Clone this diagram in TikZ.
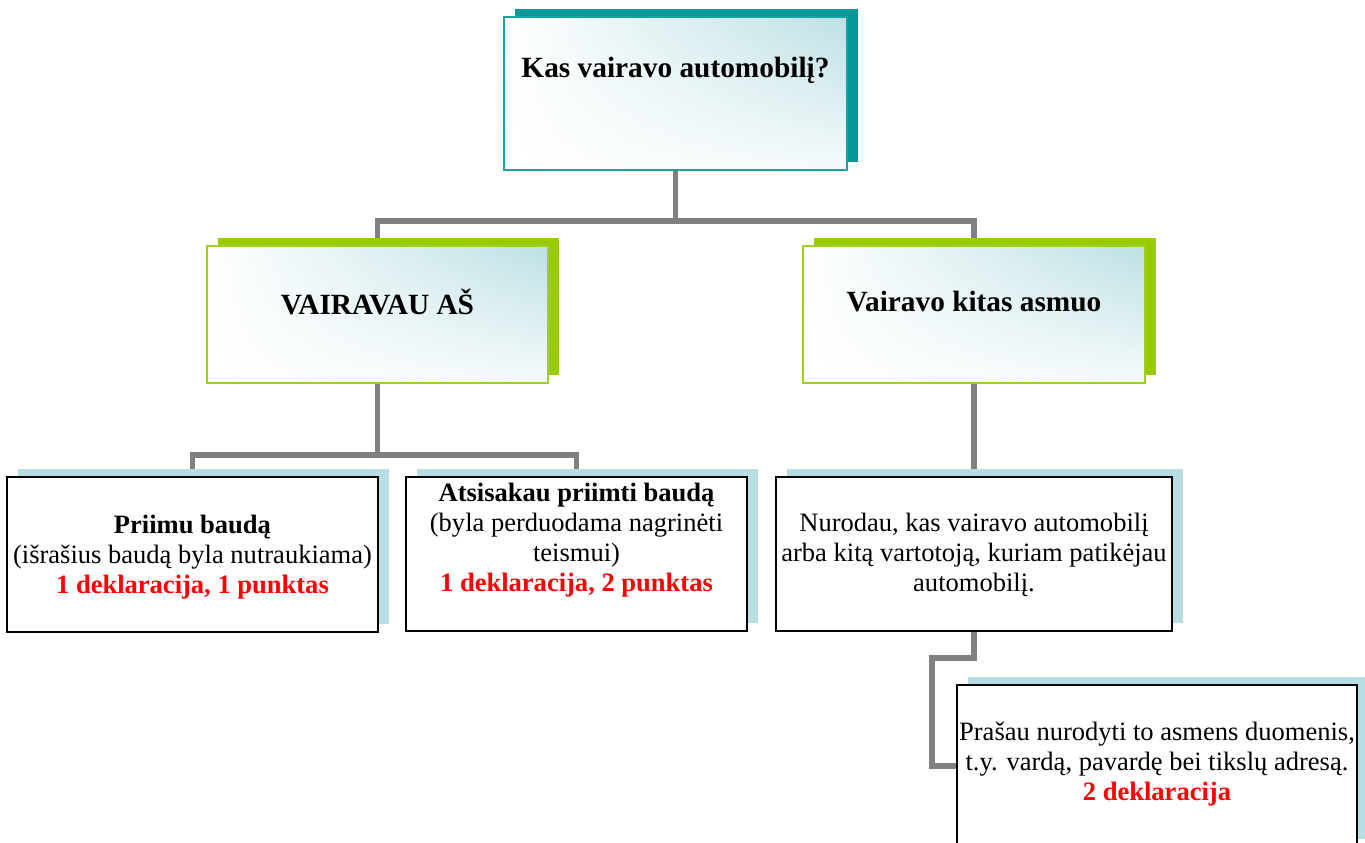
\documentclass[tikz,border=0pt]{standalone}
\usepackage{fontspec}
\setmainfont{Liberation Serif}
\usetikzlibrary{shadows,shadings,backgrounds}

\definecolor{tealshadow}{RGB}{0,153,153}
\definecolor{tealline}{RGB}{24,163,163}
\definecolor{limeshadow}{RGB}{153,204,0}
\definecolor{limeline}{RGB}{160,208,30}
\definecolor{iceshadow}{RGB}{183,222,227}
\definecolor{icefill}{RGB}{189,224,228}
\definecolor{linkgray}{RGB}{128,128,128}
\definecolor{declred}{RGB}{255,0,0}

\newcommand{\headfont}{\fontsize{22pt}{26pt}\selectfont\bfseries}
\newcommand{\bodyfont}{\fontsize{19.9pt}{22.5pt}\selectfont}
\newcommand{\decl}[1]{\textcolor{declred}{\textbf{#1}}}

\tikzset{
  shadowed/.style={general shadow={fill=#1, shadow xshift=8.25pt, shadow yshift=6pt}},
  glassbox/.style={line width=1.5pt, inner sep=0pt, outer sep=0pt, shade,
    upper left=white, upper right=icefill, lower left=white, lower right=white!85!icefill},
  qbox/.style={glassbox, draw=tealline, shadowed=tealshadow},
  pathbox/.style={glassbox, draw=limeline, shadowed=limeshadow},
  stepbox/.style={draw=black, fill=white, line width=1.5pt, inner sep=0pt, outer sep=0pt,
    shadowed=iceshadow},
  headtxt/.style={font=\headfont, inner sep=0pt},
  bodytxt/.style={font=\bodyfont, align=center, inner sep=0pt},
  link/.style={draw=linkgray, line width=4.2pt},
}

\begin{document}
\begin{tikzpicture}[x=0.75pt, y=-0.75pt]
  \useasboundingbox (0,0) rectangle (1365,843);

  % question
  \node[qbox, minimum width=257.25pt, minimum height=114.75pt] (q) at (675.5,93.5) {};
  \node[headtxt] (q-t) at (675.5,70) {Kas vairavo automobilį?};

  % who drove
  \node[pathbox, minimum width=256pt, minimum height=102.75pt] (me) at (377.5,314.5) {};
  \node[headtxt] (me-t) at (377.5,302) {VAIRAVAU AŠ};
  \node[pathbox, minimum width=256.5pt, minimum height=102.75pt] (other) at (974,314.5) {};
  \node[headtxt] (other-t) at (974,302) {Vairavo kitas asmuo};

  % answers
  \node[stepbox, minimum width=278.25pt, minimum height=116.25pt] (accept) at (192.5,554.5) {};
  \node[bodytxt] (accept-t) at (192.5,557) {\textbf{Priimu baudą}\\
    (išrašius baudą byla nutraukiama)\\ \decl{1 deklaracija, 1 punktas}};
  \node[stepbox, minimum width=255.75pt, minimum height=115.5pt] (refuse) at (576.5,554) {};
  \node[bodytxt] (refuse-t) at (576.5,540) {\textbf{Atsisakau priimti baudą}\\
    (byla perduodama nagrinėti\\ teismui)\\ \decl{1 deklaracija, 2 punktas}};
  \node[stepbox, minimum width=297pt, minimum height=115.5pt] (name) at (974,554) {};
  \node[bodytxt] (name-t) at (974,555) {Nurodau, kas vairavo automobilį\\
    arba kitą vartotoją, kuriam patikėjau\\ automobilį.};
  \node[stepbox, minimum width=300pt, minimum height=121.5pt] (ask) at (1157,766) {};
  \node[bodytxt] (ask-t) at (1157,764) {Prašau nurodyti to asmens duomenis,\\
    t.y. vardą, pavardę bei tikslų adresą.\\ \decl{2 deklaracija}};

  \begin{scope}[on background layer]
    \draw[link] (q.south) -- ++(0,51) coordinate (b1);
    \draw[link] (me.north) |- (b1) -| (other.north);
    \draw[link] (me.south) -- ++(0,72) coordinate (b2);
    \draw[link] (accept.north) |- (b2) -| (refuse.north);
    \draw[link] (other.south) -- (name.north);
    \draw[link] (name.south) -- ++(0,27) -- ++(-42,0) |- (ask.west);
  \end{scope}
\end{tikzpicture}
\end{document}
